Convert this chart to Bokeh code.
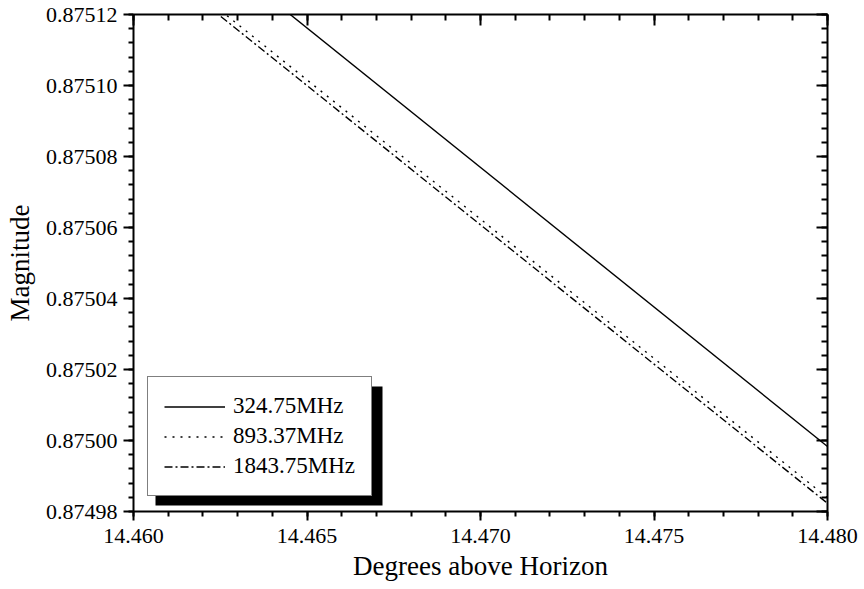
from bokeh.plotting import figure
from bokeh.models import (Range1d, LinearAxis, FixedTicker, PrintfTickFormatter,
                          CustomJSTickFormatter, Legend, LegendItem, BoxAnnotation)
from bokeh.embed import file_html
from bokeh.resources import INLINE

# ---- data ----
x_ends = [14.460, 14.480]
mag_324 = [0.8751555, 0.8749983]
mag_893 = [0.8751408, 0.8749839]
mag_1843 = [0.8751392, 0.8749823]
labels = ["324.75MHz", "893.37MHz", "1843.75MHz"]

x_ticks = [14.460, 14.465, 14.470, 14.475, 14.480]
x_minor = [round(14.460 + 0.001 * i, 3) for i in range(21)]
y_ticks = [0.87498, 0.87500, 0.87502, 0.87504, 0.87506, 0.87508, 0.87510, 0.87512]
y_minor = [round(0.87498 + 0.000004 * i, 6) for i in range(36)]

FONT = "Liberation Serif"

p = figure(width=864, height=589, output_backend="svg", toolbar_location=None,
           x_range=Range1d(14.460, 14.480), y_range=Range1d(0.87498, 0.87512),
           x_axis_type=None, y_axis_type=None,
           min_border_left=133, min_border_right=37, min_border_top=14, min_border_bottom=78)
p.outline_line_color = None
p.background_fill_color = "white"
p.border_fill_color = "white"

def style_axis(ax, outer=True):
    ax.axis_line_width = 2
    ax.axis_line_color = "black"
    ax.major_tick_line_width = 2
    ax.minor_tick_line_width = 2
    ax.major_tick_line_color = "black"
    ax.minor_tick_line_color = "black"
    if outer:
        ax.major_tick_out = 10
        ax.major_tick_in = 0
        ax.minor_tick_out = 5
        ax.minor_tick_in = 0
    else:
        ax.major_tick_out = 0
        ax.major_tick_in = 11
        ax.minor_tick_out = 0
        ax.minor_tick_in = 6
    ax.major_label_text_font = FONT
    ax.major_label_text_font_size = "22px"
    ax.major_label_text_color = "black"
    ax.axis_label_text_font = FONT
    ax.axis_label_text_font_size = "27px"
    ax.axis_label_text_font_style = "normal"
    ax.axis_label_text_color = "black"

xb = LinearAxis(ticker=FixedTicker(ticks=x_ticks, minor_ticks=x_minor),
                formatter=PrintfTickFormatter(format="%.3f"),
                axis_label="Degrees above Horizon")
style_axis(xb)
xb.major_tick_out = 9
xb.major_label_standoff = 8
xb.axis_label_standoff = 5
p.add_layout(xb, "below")

yl = LinearAxis(ticker=FixedTicker(ticks=y_ticks, minor_ticks=y_minor),
                formatter=PrintfTickFormatter(format="%.5f"),
                axis_label="Magnitude")
style_axis(yl)
yl.major_label_standoff = 6
yl.axis_label_standoff = 8
p.add_layout(yl, "left")

blank = CustomJSTickFormatter(code="return '';")
xt = LinearAxis(ticker=FixedTicker(ticks=x_ticks, minor_ticks=x_minor), formatter=blank)
style_axis(xt, outer=False)
xt.major_label_standoff = 0
p.add_layout(xt, "above")

yr = LinearAxis(ticker=FixedTicker(ticks=y_ticks, minor_ticks=y_minor), formatter=blank)
style_axis(yr, outer=False)
yr.major_label_standoff = 0
p.add_layout(yr, "right")

r1 = p.line(x_ends, mag_324, line_color="black", line_width=1.4)
r2 = p.line(x_ends, mag_893, line_color="black", line_width=1.4, line_dash="2 6")
r3 = p.line(x_ends, mag_1843, line_color="black", line_width=1.4, line_dash="8 3 2 3")

# legend shadow
shadow = BoxAnnotation(left=22, right=249, bottom=6, top=125,
                       left_units="screen", right_units="screen",
                       bottom_units="screen", top_units="screen",
                       fill_color="black", fill_alpha=1.0, line_color=None)
p.add_layout(shadow)

legend = Legend(items=[LegendItem(label=labels[0], renderers=[r1]),
                       LegendItem(label=labels[1], renderers=[r2]),
                       LegendItem(label=labels[2], renderers=[r3])],
                location=(14, 15), padding=16, spacing=4,
                glyph_width=61, glyph_height=25, label_height=25,
                label_standoff=8,
                label_text_font=FONT, label_text_font_size="23px",
                label_text_color="black",
                border_line_color="black", border_line_width=1,
                background_fill_color="white", background_fill_alpha=1.0)
p.add_layout(legend)

open("out.html", "w").write(file_html(p, INLINE))
